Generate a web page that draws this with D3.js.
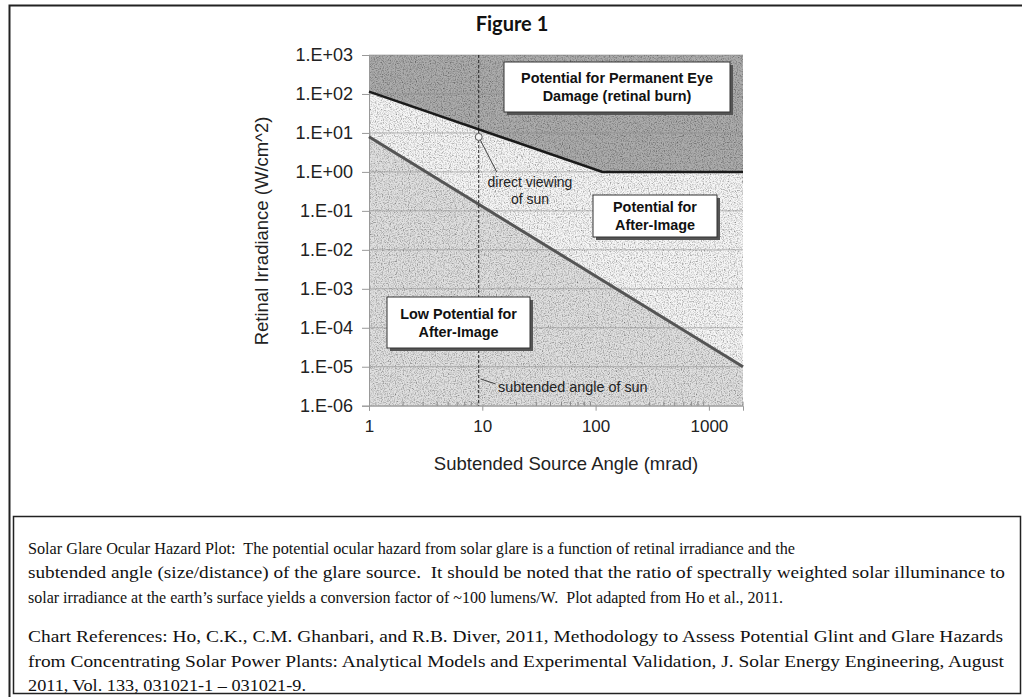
<!DOCTYPE html>
<html>
<head>
<meta charset="utf-8">
<script src="https://cdn.jsdelivr.net/npm/d3@7"></script>
<style>
  body { margin: 0; background: #fff; }
  .tick text { font-family: "Liberation Sans", Arial, sans-serif; }
  .caption { white-space: pre; }
</style>
</head>
<body>
<div id="chart"></div>
<script>
// Chart data
var xTicks = [1, 10, 100, 1000];
var yTicks = [1e3, 1e2, 1e1, 1e0, 1e-1, 1e-2, 1e-3, 1e-4, 1e-5, 1e-6];
var yTickLabels = ["1.E+03", "1.E+02", "1.E+01", "1.E+00", "1.E-01", "1.E-02", "1.E-03", "1.E-04", "1.E-05", "1.E-06"];

// retinal burn threshold (upper line)
var burnX = [1, 115, 2000];
var burnY = [115, 1, 1];
// after-image threshold (lower line)
var afterX = [1, 2000];
var afterY = [8, 1e-5];

// sun
var sunAngle = 9.3;
var sunIrradiance = 7.9;

var captionLines = [
  "Solar Glare Ocular Hazard Plot:  The potential ocular hazard from solar glare is a function of retinal irradiance and the",
  "subtended angle (size/distance) of the glare source.  It should be noted that the ratio of spectrally weighted solar illuminance to",
  "solar irradiance at the earth\u2019s surface yields a conversion factor of ~100 lumens/W.  Plot adapted from Ho et al., 2011.",
  "",
  "Chart References: Ho, C.K., C.M. Ghanbari, and R.B. Diver, 2011, Methodology to Assess Potential Glint and Glare Hazards",
  "from Concentrating Solar Power Plants: Analytical Models and Experimental Validation, J. Solar Energy Engineering, August",
  "2011, Vol. 133, 031021-1 \u2013 031021-9."
];
// right end of each caption line in the figure
var captionEnds = [795, 1005, 783, 0, 1003, 1004, 306];

var svgWidth = 1022;
var svgHeight = 697;

var svg = d3.select("#chart")
  .append("svg")
  .attr("width", svgWidth)
  .attr("height", svgHeight);

// speckle texture like the scanned original
var defs = svg.append("defs");
var grain = defs.append("filter")
  .attr("id", "grain")
  .attr("x", 0).attr("y", 0).attr("width", 1).attr("height", 1);
grain.append("feTurbulence")
  .attr("type", "fractalNoise")
  .attr("baseFrequency", 0.85)
  .attr("numOctaves", 2)
  .attr("seed", 4)
  .attr("result", "noise");
grain.append("feColorMatrix")
  .attr("in", "noise")
  .attr("type", "matrix")
  .attr("values", "0 0 0 0 0  0 0 0 0 0  0 0 0 0 0  1.6 0 0 0 -0.68")
  .attr("result", "dots");
grain.append("feComposite")
  .attr("in", "dots").attr("in2", "SourceGraphic")
  .attr("operator", "in")
  .attr("result", "dotsIn");
var merge = grain.append("feMerge");
merge.append("feMergeNode").attr("in", "SourceGraphic");
merge.append("feMergeNode").attr("in", "dotsIn");

// outer frame
svg.append("rect")
  .attr("x", 9.5).attr("y", 5.5)
  .attr("width", 1030).attr("height", 700)
  .attr("fill", "none")
  .attr("stroke", "#222")
  .attr("stroke-width", 2);

// plot area
var plot = { left: 369, right: 743, top: 55, bottom: 405.7 };

var xScale = d3.scaleLog().domain([1, 2000]).range([plot.left, plot.right]);
var yScale = d3.scaleLog().domain([1e-6, 1e3]).range([plot.bottom, plot.top]);

var burnPts = burnX.map((x, i) => [x, burnY[i]]);
var afterPts = afterX.map((x, i) => [x, afterY[i]]);

var line = d3.line().x(d => xScale(d[0])).y(d => yScale(d[1]));

var chartGroup = svg.append("g");

// regions
var regions = chartGroup.append("g").attr("filter", "url(#grain)");

regions.append("path")
  .attr("d", line([[1, 1e3]].concat(burnPts, [[2000, 1e3]])) + "Z")
  .attr("fill", "#acacac");

regions.append("path")
  .attr("d", line(burnPts.concat(afterPts.slice().reverse())) + "Z")
  .attr("fill", "#f6f6f6");

regions.append("path")
  .attr("d", line(afterPts.concat([[2000, 1e-6], [1, 1e-6]])) + "Z")
  .attr("fill", "#e0e0e0");

// horizontal gridlines
chartGroup.selectAll(".hgrid")
  .data(yTicks)
  .enter()
  .append("line")
  .attr("x1", plot.left).attr("x2", plot.right)
  .attr("y1", d => yScale(d)).attr("y2", d => yScale(d))
  .attr("stroke", "#8c8c8c")
  .attr("stroke-opacity", 0.6)
  .attr("stroke-width", 1);

// y axis
var leftAxis = d3.axisLeft(yScale)
  .tickValues(yTicks)
  .tickFormat((d, i) => yTickLabels[i])
  .tickSize(7)
  .tickPadding(9);

var yAxis = chartGroup.append("g")
  .attr("transform", `translate(${plot.left}, 0)`)
  .call(leftAxis);
yAxis.select(".domain").attr("stroke", "#999");
yAxis.selectAll(".tick line").attr("stroke", "#999");
yAxis.selectAll("text").attr("font-size", "18px").attr("fill", "#222");

// x axis
var bottomAxis = d3.axisBottom(xScale)
  .tickValues(xTicks)
  .tickFormat(d3.format("d"))
  .tickSize(5)
  .tickPadding(9);

var xAxis = chartGroup.append("g")
  .attr("transform", `translate(0, ${plot.bottom})`)
  .call(bottomAxis);
xAxis.select(".domain").attr("stroke", "#999");
xAxis.selectAll(".tick line").attr("stroke", "#999");
xAxis.selectAll("text").attr("font-size", "17px").attr("fill", "#222");

// minor ticks on x axis (inside)
var minorX = [];
[1, 10, 100, 1000].forEach(function(dec) {
  for (var k = 2; k <= 9; k++) {
    if (dec * k <= 2000) minorX.push(dec * k);
  }
});
chartGroup.selectAll(".minor")
  .data(minorX)
  .enter()
  .append("line")
  .attr("x1", d => xScale(d)).attr("x2", d => xScale(d))
  .attr("y1", plot.bottom).attr("y2", plot.bottom - 4)
  .attr("stroke", "#888");

// threshold lines
chartGroup.append("path")
  .attr("d", line(afterPts))
  .attr("fill", "none")
  .attr("stroke", "#555")
  .attr("stroke-width", 3);

chartGroup.append("path")
  .attr("d", line(burnPts))
  .attr("fill", "none")
  .attr("stroke", "#1a1a1a")
  .attr("stroke-width", 2.5);

// subtended angle of sun
chartGroup.append("line")
  .attr("x1", xScale(sunAngle)).attr("x2", xScale(sunAngle))
  .attr("y1", plot.top).attr("y2", plot.bottom)
  .attr("stroke", "#222")
  .attr("stroke-width", 1)
  .attr("stroke-dasharray", "3,2");

chartGroup.append("line")
  .attr("x1", xScale(sunAngle)).attr("y1", yScale(sunIrradiance))
  .attr("x2", xScale(sunAngle) + 18).attr("y2", yScale(sunIrradiance) + 35)
  .attr("stroke", "#444")
  .attr("stroke-width", 1);

chartGroup.append("circle")
  .attr("cx", xScale(sunAngle))
  .attr("cy", yScale(sunIrradiance))
  .attr("r", 3.5)
  .attr("fill", "#f4f4f4")
  .attr("stroke", "#555")
  .attr("stroke-width", 1);

var note = chartGroup.append("text")
  .attr("font-family", "Liberation Sans, Arial, sans-serif")
  .attr("font-size", "14px")
  .attr("fill", "#222")
  .attr("text-anchor", "middle");
note.append("tspan").attr("x", 530).attr("y", 187).text("direct viewing");
note.append("tspan").attr("x", 530).attr("y", 204).text("of sun");

chartGroup.append("line")
  .attr("x1", xScale(sunAngle) + 2).attr("y1", 379)
  .attr("x2", xScale(sunAngle) + 17).attr("y2", 384)
  .attr("stroke", "#444")
  .attr("stroke-width", 1);

chartGroup.append("text")
  .attr("x", 498).attr("y", 392)
  .attr("font-family", "Liberation Sans, Arial, sans-serif")
  .attr("font-size", "14.4px")
  .attr("fill", "#222")
  .text("subtended angle of sun");

// label boxes
var boxes = [
  { x: 504, y: 62, w: 226, h: 50, lines: ["Potential for Permanent Eye", "Damage (retinal burn)"] },
  { x: 593, y: 195, w: 124, h: 42, lines: ["Potential for", "After-Image"] },
  { x: 387, y: 297, w: 143, h: 51, lines: ["Low Potential for", "After-Image"] }
];

boxes.forEach(function(b) {
  var g = chartGroup.append("g");
  g.append("rect")
    .attr("x", b.x + 3).attr("y", b.y + 3)
    .attr("width", b.w).attr("height", b.h)
    .attr("fill", "#555");
  g.append("rect")
    .attr("x", b.x).attr("y", b.y)
    .attr("width", b.w).attr("height", b.h)
    .attr("fill", "#fff")
    .attr("stroke", "#333")
    .attr("stroke-width", 1);
  var t = g.append("text")
    .attr("font-family", "Liberation Sans, Arial, sans-serif")
    .attr("font-size", "14.4px")
    .attr("font-weight", "bold")
    .attr("fill", "#111")
    .attr("text-anchor", "middle");
  var lh = 18;
  var y0 = b.y + b.h / 2 - lh / 2 + 5;
  b.lines.forEach(function(s, i) {
    t.append("tspan").attr("x", b.x + b.w / 2).attr("y", y0 + i * lh).text(s);
  });
});

// titles
svg.append("text")
  .attr("x", 512).attr("y", 31)
  .attr("text-anchor", "middle")
  .attr("font-family", "Lato, 'Open Sans', sans-serif")
  .attr("font-weight", "bold")
  .attr("font-size", "20px")
  .attr("fill", "#111")
  .text("Figure 1");

svg.append("text")
  .attr("x", 566).attr("y", 470)
  .attr("text-anchor", "middle")
  .attr("font-family", "Liberation Sans, Arial, sans-serif")
  .attr("font-size", "18.5px")
  .attr("fill", "#222")
  .text("Subtended Source Angle (mrad)");

svg.append("text")
  .attr("transform", "translate(268, 231) rotate(-90)")
  .attr("text-anchor", "middle")
  .attr("font-family", "Liberation Sans, Arial, sans-serif")
  .attr("font-size", "18.5px")
  .attr("fill", "#222")
  .text("Retinal Irradiance (W/cm^2)");

// caption box
svg.append("rect")
  .attr("x", 13.5).attr("y", 516.5)
  .attr("width", 1007).attr("height", 177)
  .attr("fill", "#fff")
  .attr("stroke", "#222")
  .attr("stroke-width", 1.5);

var caption = svg.append("g")
  .attr("font-family", "Liberation Serif, 'Times New Roman', serif")
  .attr("font-size", "17px")
  .attr("fill", "#111");

captionLines.forEach(function(s, i) {
  if (s === "") return;
  caption.append("text")
    .attr("class", "caption")
    .attr("x", 28)
    .attr("y", 554 + i * 24.3 + (i > 3 ? -9 : 0))
    .attr("textLength", captionEnds[i] - 28)
    .attr("lengthAdjust", "spacingAndGlyphs")
    .text(s);
});
</script>
</body>
</html>
